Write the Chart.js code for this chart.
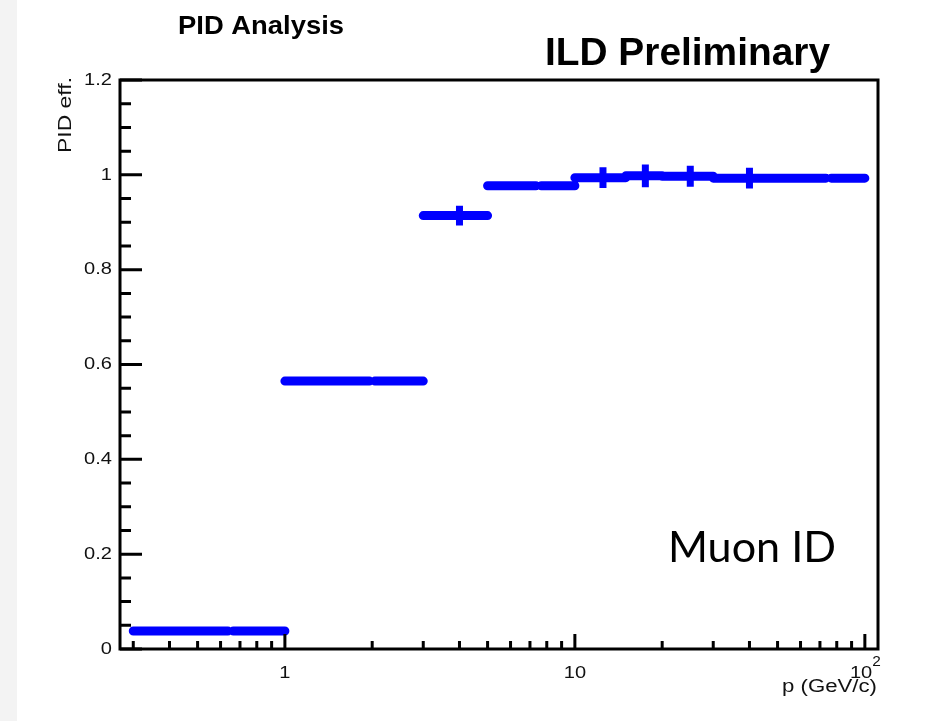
<!DOCTYPE html>
<html>
<head>
<meta charset="utf-8">
<script src="https://cdn.jsdelivr.net/npm/chart.js@4"></script>
<style>
  body { margin: 0; background: #fff; }
  canvas { display: block; }
</style>
</head>
<body>
<canvas id="c" width="932" height="721"></canvas>
<script>
// bins (GeV/c) and muon ID efficiency
const binEdges  = [0.3, 1, 3, 5, 10, 15, 20, 30, 50, 100];
const effValues = [0.038, 0.565, 0.914, 0.977, 0.994, 0.998, 0.997, 0.993, 0.993];
const effErrors = [0.003, 0.003, 0.021, 0.003, 0.022, 0.024, 0.022, 0.022, 0.003];
const yTicks = [0, 0.2, 0.4, 0.6, 0.8, 1, 1.2];
const yTickLabels = ['0', '0.2', '0.4', '0.6', '0.8', '1', '1.2'];
const xTicks = [1, 10, 100];
const xTickLabels = ['1', '10', '10^2'];

const BLUE = '#0000ff';
const NOTCH = 0.021; // small gap at bin centre, gives the waist in the line

// horizontal bin lines (split at centre), null = gap
const histPts = [];
const errPts = [];
binEdges.slice(0, -1).forEach((lo, i) => {
  const hi = binEdges[i + 1], c = (lo + hi) / 2, v = effValues[i];
  histPts.push({x: lo, y: v}, {x: c * (1 - NOTCH), y: v}, {x: c, y: null},
               {x: c * (1 + NOTCH), y: v}, {x: hi, y: v}, {x: hi, y: null});
  errPts.push({x: c, y: v - effErrors[i]}, {x: c, y: v + effErrors[i]}, {x: c, y: null});
});

function txt(ctx, s, x, y, font, align, base, sx) {
  ctx.save();
  ctx.translate(x, y);
  ctx.scale(sx || 1, 1);
  ctx.font = font;
  ctx.textAlign = align;
  ctx.textBaseline = base;
  ctx.fillText(s, 0, 0);
  ctx.restore();
}

// stretch/squeeze text to a given width
function fit(ctx, s, font, w) {
  ctx.font = font;
  return w / ctx.measureText(s).width;
}

const frame = {
  id: 'frame',
  beforeDraw(chart) {
    const ctx = chart.ctx;
    ctx.save();
    ctx.fillStyle = '#fff';
    ctx.fillRect(0, 0, chart.width, chart.height);
    ctx.fillStyle = '#f3f3f3';
    ctx.fillRect(0, 0, 17, chart.height);
    ctx.restore();
  },
  afterDraw(chart) {
    const ctx = chart.ctx, a = chart.chartArea;
    const xs = chart.scales.x, ys = chart.scales.y;
    ctx.save();
    ctx.strokeStyle = '#000';
    ctx.lineWidth = 3;
    ctx.strokeRect(a.left, a.top, a.right - a.left, a.bottom - a.top);

    // y ticks, pointing inward
    ctx.beginPath();
    for (let k = 0; k <= 24; k++) {
      const v = k * 0.05, py = ys.getPixelForValue(v);
      const len = k % 4 === 0 ? 22 : 11;
      ctx.moveTo(a.left, py); ctx.lineTo(a.left + len, py);
    }
    // x ticks, log
    for (const dec of [0.1, 1, 10, 100]) {
      for (let m = 1; m <= 9; m++) {
        const v = dec * m;
        if (v < xs.min || v > xs.max) continue;
        const px = xs.getPixelForValue(v);
        const len = m === 1 ? 15 : 8;
        ctx.moveTo(px, a.bottom); ctx.lineTo(px, a.bottom - len);
      }
    }
    ctx.stroke();

    ctx.fillStyle = '#111';
    const tf = '17px "Liberation Sans", Arial, sans-serif';
    yTicks.forEach((v, i) => {
      txt(ctx, yTickLabels[i], a.left - 8, ys.getPixelForValue(v), tf, 'right', 'middle', 1.18);
    });
    xTicks.forEach((v, i) => {
      const px = xs.getPixelForValue(v);
      const [base, exp] = xTickLabels[i].split('^');
      if (!exp) {
        txt(ctx, base, px, a.bottom + 24, tf, 'center', 'middle', 1.18);
      } else {
        ctx.font = tf;
        const wb = ctx.measureText(base).width * 1.18;
        const we = ctx.measureText(exp).width * 0.8;
        const x0 = px - (wb + we) / 2;
        txt(ctx, base, x0, a.bottom + 24, tf, 'left', 'middle', 1.18);
        txt(ctx, exp, x0 + wb, a.bottom + 13, '14px "Liberation Sans", Arial, sans-serif', 'left', 'middle', 1.1);
      }
    });
    const af = '18px "Liberation Sans", Arial, sans-serif';
    txt(ctx, 'p (GeV/c)', a.right - 1, a.bottom + 38, af, 'right', 'middle', fit(ctx, 'p (GeV/c)', af, 95));

    ctx.save();
    ctx.translate(66, a.top - 3);
    ctx.rotate(-Math.PI / 2);
    txt(ctx, 'PID eff.', 0, 0, af, 'right', 'middle', fit(ctx, 'PID eff.', af, 76));
    ctx.restore();

    ctx.fillStyle = '#000';
    const f1 = 'bold 25px "Liberation Sans", Arial, sans-serif';
    txt(ctx, 'PID Analysis', 178, 34, f1, 'left', 'alphabetic', fit(ctx, 'PID Analysis', f1, 166));
    const f2 = 'bold 39px "Liberation Sans", Arial, sans-serif';
    txt(ctx, 'ILD Preliminary', 545, 65, f2, 'left', 'alphabetic', fit(ctx, 'ILD Preliminary', f2, 285));
    const f3 = '43px Lato, "Open Sans", sans-serif';
    txt(ctx, 'Muon ID', 668, 562, f3, 'left', 'alphabetic', fit(ctx, 'Muon ID', f3, 168));
    ctx.restore();
  }
};

new Chart(document.getElementById('c'), {
  type: 'scatter',
  data: {
    datasets: [
      { data: histPts, showLine: true, spanGaps: false, borderColor: BLUE, borderWidth: 9,
        borderCapStyle: 'round', pointRadius: 0, pointHoverRadius: 0 },
      { data: errPts, showLine: true, spanGaps: false, borderColor: BLUE, borderWidth: 7,
        borderCapStyle: 'butt', pointRadius: 0, pointHoverRadius: 0 }
    ]
  },
  options: {
    responsive: false,
    animation: false,
    events: [],
    layout: { padding: { left: 120, top: 80, right: 54, bottom: 72 } },
    plugins: { legend: { display: false }, tooltip: { enabled: false } },
    scales: {
      x: { type: 'logarithmic', min: 0.27, max: 111, display: false },
      y: { type: 'linear', min: 0, max: 1.2, display: false }
    }
  },
  plugins: [frame]
});
</script>
</body>
</html>
